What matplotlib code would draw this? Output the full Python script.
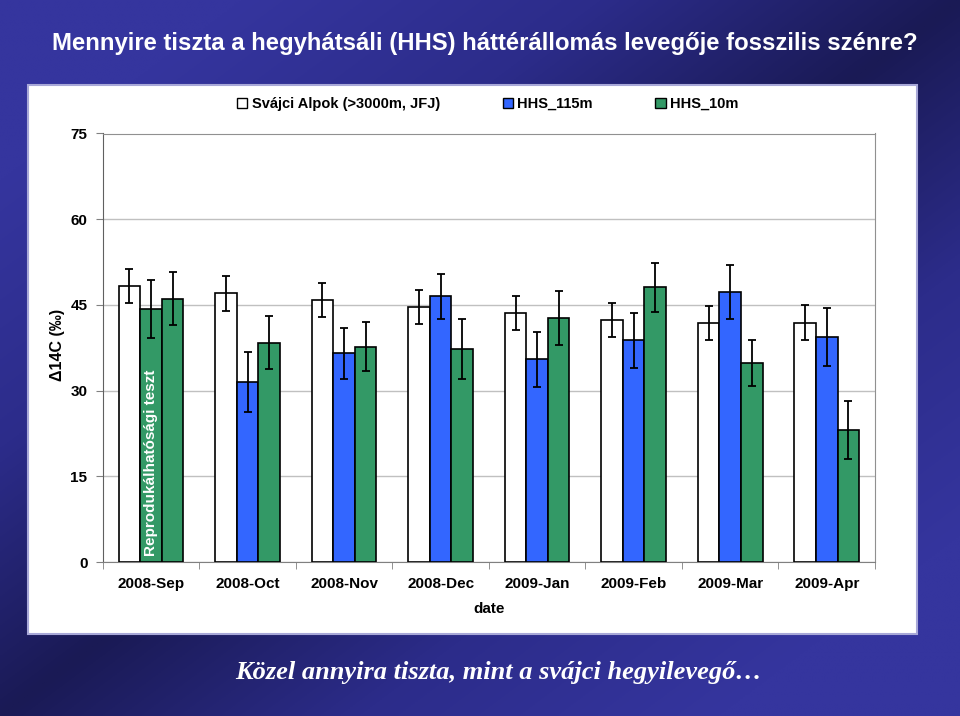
import numpy as np
import matplotlib
matplotlib.use('Agg')
import matplotlib.pyplot as plt
from matplotlib.patches import Rectangle, Patch
from matplotlib.colors import LinearSegmentedColormap

# data
months = ['2008-Sep', '2008-Oct', '2008-Nov', '2008-Dec',
          '2009-Jan', '2009-Feb', '2009-Mar', '2009-Apr']
jfj = [48.3, 47.0, 45.8, 44.6, 43.6, 42.4, 41.8, 41.9]
jfj_err = [3.0, 3.0, 3.0, 3.0, 3.0, 3.0, 3.0, 3.0]
hhs115 = [44.3, 31.5, 36.5, 46.5, 35.5, 38.8, 47.3, 39.4]
hhs115_err = [5.1, 5.3, 4.4, 3.9, 4.8, 4.8, 4.7, 5.1]
hhs10 = [46.1, 38.4, 37.7, 37.3, 42.7, 48.1, 34.8, 23.1]
hhs10_err = [4.7, 4.6, 4.3, 5.2, 4.8, 4.3, 4.0, 5.1]
series_names = ['Svájci Alpok (>3000m, JFJ)', 'HHS_115m', 'HHS_10m']

W, H = 960, 716
BLUE = '#3366ff'
GREEN = '#339966'

plt.rcParams['font.family'] = ['Liberation Sans', 'DejaVu Sans']

fig = plt.figure(figsize=(W/100, H/100), dpi=100)

# background with diagonal gradient
bg = fig.add_axes([0, 0, 1, 1])
bg.axis('off')
xx, yy = np.meshgrid(np.linspace(0, 1, 400), np.linspace(0, 1, 400))
grad = np.abs(xx + yy - 1)
cmap = LinearSegmentedColormap.from_list('bg', ['#1a1a55', '#2c2c8a', '#35359e'])
bg.imshow(grad, cmap=cmap, extent=[0, 1, 0, 1], origin='upper', aspect='auto', vmin=0, vmax=0.75)
bg.set_xlim(0, 1)
bg.set_ylim(0, 1)
bg.add_patch(Rectangle((28/W, 1-634/H), (917-28)/W, (634-85)/H,
                       facecolor='white', edgecolor='#a8a8d8', lw=1.5))

fig.text(52/W, 1-50/H, 'Mennyire tiszta a hegyhátsáli (HHS) háttérállomás levegője fosszilis szénre?',
         color='white', fontsize=17.2, fontweight='bold', ha='left', va='baseline')
fig.text(499/W, 1-673/H, 'Közel annyira tiszta, mint a svájci hegyilevegő…',
         color='white', fontsize=19, fontweight='bold', style='italic', ha='center', va='center',
         family=['Liberation Serif', 'DejaVu Serif'])

# chart
ax = fig.add_axes([102.7/W, 1-562/H, (875-102.7)/W, (562-133.5)/H])
x = np.arange(len(months))
w = 0.2234
ekw = dict(ecolor='black', elinewidth=1.3, capsize=2.6, capthick=1.3)
c115 = [GREEN] + [BLUE]*(len(months)-1)
ax.bar(x - w, jfj, w, yerr=jfj_err, color='white', edgecolor='black', lw=1.2, error_kw=ekw, zorder=3)
ax.bar(x, hhs115, w, yerr=hhs115_err, color=c115, edgecolor='black', lw=1.2, error_kw=ekw, zorder=3)
ax.bar(x + w, hhs10, w, yerr=hhs10_err, color=GREEN, edgecolor='black', lw=1.2, error_kw=ekw, zorder=3)

ax.text(0, 1, 'Reprodukálhatósági teszt', rotation=90, color='white', fontsize=11,
        fontweight='bold', ha='center', va='bottom', zorder=5)

ax.set_xlim(-0.5, len(months)-0.5)
ax.set_ylim(0, 75)
ax.set_yticks(range(0, 76, 15))
ax.yaxis.grid(True, color='#c0c0c0', lw=1)
ax.set_axisbelow(True)
for s in ax.spines.values():
    s.set_color('#909090')
ax.spines['left'].set_color('#606060')
ax.spines['bottom'].set_color('#808080')

ax.set_xticks(x)
ax.set_xticklabels(months)
ax.set_xticks(np.arange(-0.5, len(months), 1), minor=True)
ax.tick_params(axis='x', which='major', length=0, pad=11, labelsize=11)
ax.tick_params(axis='x', which='minor', length=5, color='#808080')
ax.tick_params(axis='y', length=5, color='#808080', pad=6, labelsize=11)
for lab in ax.get_xticklabels() + ax.get_yticklabels():
    lab.set_fontweight('bold')

ax.set_xlabel('date', fontsize=11, fontweight='bold', labelpad=8)
ax.set_ylabel('Δ14C (‰)', fontsize=11.5, fontweight='bold')
ax.yaxis.set_label_coords(-0.049, 0.506)

handles = [Patch(facecolor='white', edgecolor='black'),
           Patch(facecolor=BLUE, edgecolor='black'),
           Patch(facecolor=GREEN, edgecolor='black')]
fig.legend(handles, series_names, loc='center left', bbox_to_anchor=(237/W, 1-104/H),
           ncol=3, frameon=False, borderpad=0, borderaxespad=0, handlelength=0.7,
           handleheight=0.7, handletextpad=0.3, columnspacing=4.3,
           prop=dict(size=10.5, weight='bold'))

fig.savefig('out.png', dpi=100)
